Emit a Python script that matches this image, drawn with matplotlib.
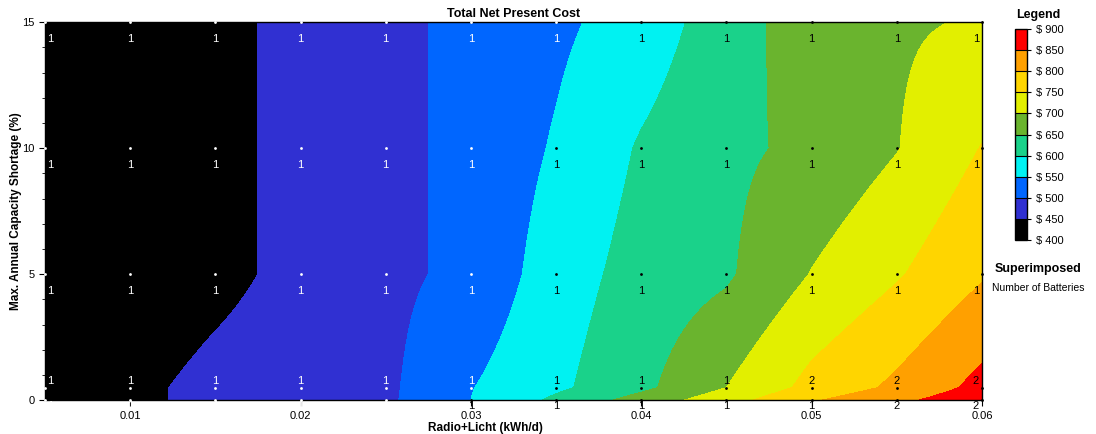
import numpy as np
import matplotlib
matplotlib.use('Agg')
import matplotlib.pyplot as plt
from matplotlib.colors import ListedColormap, BoundaryNorm

plt.rcParams['font.family'] = ['Liberation Sans', 'DejaVu Sans']

# sensitivity cases
load = [0.005, 0.010, 0.015, 0.020, 0.025, 0.030,
        0.035, 0.040, 0.045, 0.050, 0.055, 0.060]   # Radio+Licht (kWh/d)
shortage = [0, 0.5, 5, 10, 15]                      # max. annual capacity shortage (%)

# total net present cost ($), one row per shortage value
npc = [
    [425, 440, 462, 476, 491, 550, 610, 670, 730, 795, 838, 885],
    [425, 440, 462, 475, 490, 548, 590, 638, 700, 765, 810, 865],
    [405, 420, 438, 462, 488, 512, 575, 620, 643, 702, 745, 795],
    [405, 420, 438, 462, 488, 512, 555, 605, 640, 660, 698, 752],
    [405, 420, 438, 462, 488, 512, 540, 572, 626, 677, 694, 704],
]

# superimposed: number of batteries
batteries = [
    [1, 1, 1, 1, 1, 1, 1, 1, 1, 1, 2, 2],
    [1, 1, 1, 1, 1, 1, 1, 1, 1, 2, 2, 2],
    [1, 1, 1, 1, 1, 1, 1, 1, 1, 1, 1, 1],
    [1, 1, 1, 1, 1, 1, 1, 1, 1, 1, 1, 1],
    [1, 1, 1, 1, 1, 1, 1, 1, 1, 1, 1, 1],
]

levels = [400, 450, 500, 550, 600, 650, 700, 750, 800, 850, 900]
band_colors = ['#000000', '#3030d2', '#0066ff', '#00f2f2', '#1ad28a',
               '#6ab42e', '#e2ef00', '#ffd500', '#ffa000', '#ff0000']
level_labels = ['$ %d' % v for v in levels]
x_ticks = [0.01, 0.02, 0.03, 0.04, 0.05, 0.06]
y_ticks = [0, 5, 10, 15]

fig = plt.figure(figsize=(10.96, 4.34), dpi=100)
ax = fig.add_axes([0.041, 0.078, 0.855, 0.871])

# bilinear shading between the sensitivity cases
Z = np.array(npc, dtype=float)
xf = np.linspace(load[0], load[-1], 800)
yf = np.linspace(shortage[0], shortage[-1], 500)
rows = np.array([np.interp(xf, load, r) for r in Z])
Zf = np.array([np.interp(yf, shortage, c) for c in rows.T]).T

cmap = ListedColormap(band_colors)
norm = BoundaryNorm(levels, cmap.N)
ax.contourf(xf, yf, Zf, levels=levels, colors=band_colors)

ax.set_xlim(load[0], load[-1])
ax.set_ylim(0, 15)
ax.set_xticks(x_ticks)
ax.set_xticklabels(['%.2f' % t for t in x_ticks])
ax.set_yticks(y_ticks)
ax.set_yticks(range(0, 16), minor=True)
ax.tick_params(axis='both', which='major', labelsize=8, length=4, width=0.8)
ax.tick_params(axis='y', which='minor', length=2, width=0.6)
for s in ax.spines.values():
    s.set_linewidth(1.0)

# superimposed markers and labels
for j, yv in enumerate(shortage):
    for i, xv in enumerate(load):
        c = 'white' if npc[j][i] < 550 else 'black'
        ax.plot(xv, yv, 'o', ms=2, mec='none', color=c, clip_on=False, zorder=5)
        dx = 5 if i == 0 else (-6 if i == len(load) - 1 else 0)
        if yv >= 5:
            dy = -17
        elif yv > 0:
            dy = 7
        else:
            dy = -6
        ax.annotate(str(batteries[j][i]), (xv, yv), xytext=(dx, dy),
                    textcoords='offset pixels', ha='center', va='center',
                    fontsize=8, color=c, annotation_clip=False, zorder=6)

ax.text(0.5, 1 + 8 / 378, 'Total Net Present Cost', transform=ax.transAxes,
        ha='center', va='center', fontsize=9, fontweight='bold')
ax.set_xlabel('Radio+Licht (kWh/d)', fontsize=8.5, fontweight='bold')
ax.xaxis.set_label_coords(0.47, -0.057)
ax.set_ylabel('Max. Annual Capacity Shortage (%)', fontsize=8.5, fontweight='bold')
ax.yaxis.set_label_coords(-0.024, 0.5)

# legend colour bar
cax = fig.add_axes([0.926, 0.447, 0.011, 0.486])
sm = plt.cm.ScalarMappable(norm=norm, cmap=cmap)
cb = fig.colorbar(sm, cax=cax, boundaries=levels, ticks=levels, drawedges=True)
cb.ax.set_yticklabels(level_labels)
cb.ax.tick_params(labelsize=8, length=3, width=0.8)
cb.outline.set_linewidth(1.0)
cb.dividers.set_linewidth(0.8)

fig.text(1038 / 1096, 1 - 15 / 434, 'Legend', ha='center', va='center',
         fontsize=9, fontweight='bold')
fig.text(1038 / 1096, 1 - 269 / 434, 'Superimposed', ha='center', va='center',
         fontsize=9, fontweight='bold')
fig.text(1038 / 1096, 1 - 288 / 434, 'Number of Batteries', ha='center', va='center',
         fontsize=7.5)

fig.savefig('out.png', dpi=100)
